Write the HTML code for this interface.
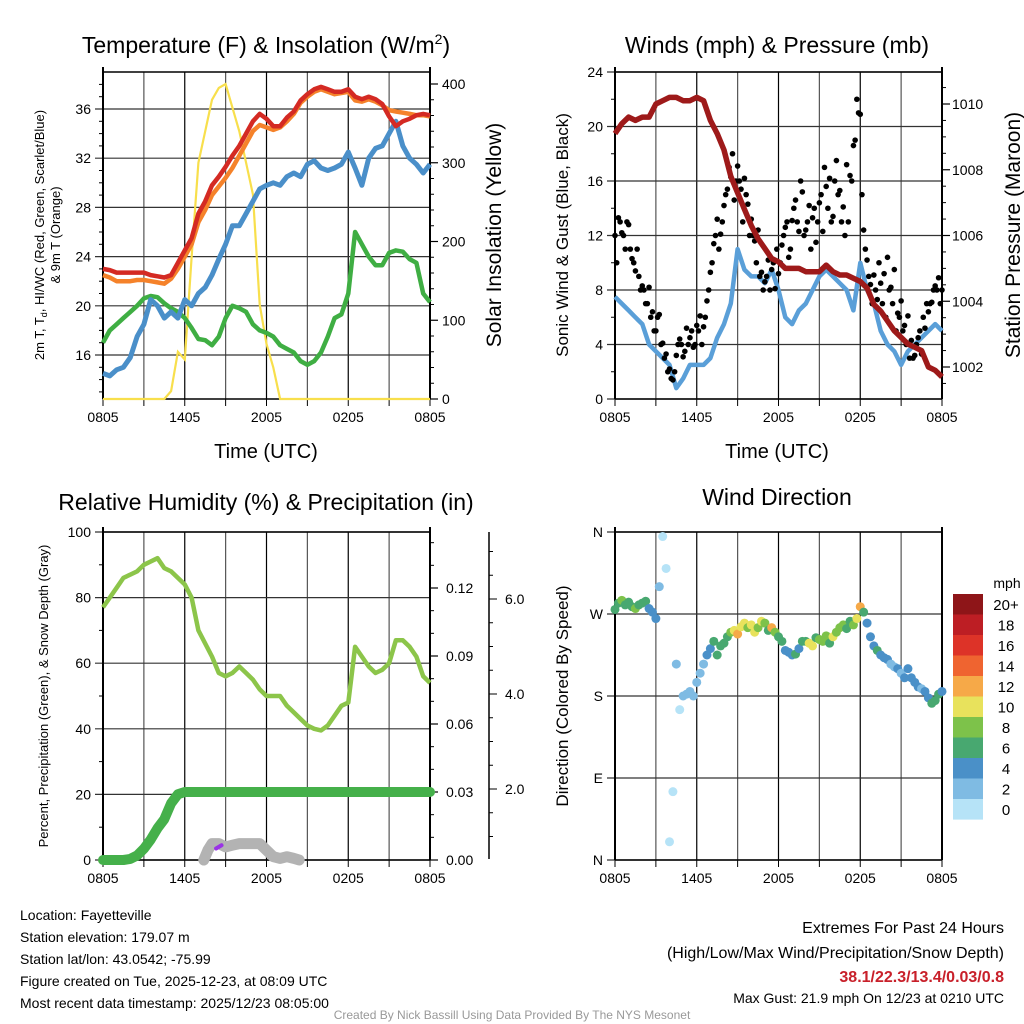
<!DOCTYPE html>
<html><head><meta charset="utf-8"><style>
html,body{margin:0;padding:0;background:#fff;}
svg{display:block;font-family:"Liberation Sans",Arial,sans-serif;}
</style></head><body>
<svg id="root" width="1024" height="1024" viewBox="0 0 1024 1024" xmlns="http://www.w3.org/2000/svg">
<rect width="1024" height="1024" fill="#fff"/>
<g id="p1"></g>
<g id="p2"></g>
<g id="p3"></g>
<g id="p4"></g>
<g font-size="14" fill="#000">
<text x="20" y="920">Location: Fayetteville</text>
<text x="20" y="942">Station elevation: 179.07 m</text>
<text x="20" y="964">Station lat/lon: 43.0542; -75.99</text>
<text x="20" y="986">Figure created on Tue, 2025-12-23, at 08:09 UTC</text>
<text x="20" y="1008">Most recent data timestamp: 2025/12/23 08:05:00</text>
</g>
<g text-anchor="end">
<text x="1004" y="933" font-size="16">Extremes For Past 24 Hours</text>
<text x="1004" y="958" font-size="16">(High/Low/Max Wind/Precipitation/Snow Depth)</text>
<text x="1004" y="982" font-size="16" font-weight="bold" fill="#c8202a">38.1/22.3/13.4/0.03/0.8</text>
<text x="1004" y="1003" font-size="14">Max Gust: 21.9 mph On 12/23 at 0210 UTC</text>
</g>
<text x="512" y="1019" font-size="12" fill="#999" text-anchor="middle">Created By Nick Bassill Using Data Provided By The NYS Mesonet</text>
</svg>
<script>
const NS='http://www.w3.org/2000/svg';
const xLabels=['0805','1405','2005','0205','0805'];
// 0.5 hour series (hours 0..24)
const tempRed=[23.0,22.9,22.7,22.7,22.7,22.7,22.7,22.5,22.4,22.3,22.5,23.5,24.5,25.5,27.5,28.5,29.8,30.5,31.3,32.2,33.0,34.0,35.0,35.6,35.2,34.6,34.6,35.3,35.8,36.7,37.2,37.6,37.8,37.6,37.4,37.4,37.6,37.0,36.8,37.0,36.8,36.4,35.4,34.6,35.0,35.2,35.5,35.6,35.5];
const tempOrange=[22.5,22.3,22.0,22.0,22.0,22.1,22.1,22.0,21.9,21.8,22.2,23.0,24.0,25.0,26.8,27.8,29.0,29.7,30.4,31.2,32.2,33.2,34.2,34.7,34.5,34.3,34.5,35.0,35.6,36.5,37.0,37.4,37.6,37.4,37.2,37.3,37.4,36.7,36.6,36.8,36.6,36.3,35.9,35.8,35.7,35.6,35.5,35.5,35.4];
const tempBlue=[14.5,14.3,14.8,15.0,15.8,17.5,18.5,20.5,20.0,19.0,19.5,19.0,20.5,20.0,21.0,21.5,22.5,23.8,25.0,26.5,26.5,27.5,28.5,29.5,29.8,30.0,29.8,30.5,30.8,30.5,31.5,31.8,31.2,31.0,31.2,31.5,32.5,31.2,29.8,32.0,32.8,33.0,34.0,35.0,33.0,32.0,31.5,30.8,31.5];
const tempGreen=[17.0,18.0,18.5,19.0,19.5,20.0,20.6,20.8,20.7,20.2,19.8,19.5,19.0,18.2,17.3,17.2,16.8,17.5,19.0,20.0,19.8,19.5,18.5,18.0,17.8,17.5,16.8,16.5,16.2,15.5,15.2,15.5,16.2,17.5,19.0,19.3,21.0,26.0,25.0,24.0,23.3,23.3,24.3,24.5,24.4,23.8,23.5,21.0,20.3];
const solar=[0,0,0,0,0,0,0,0,0,0,10,60,50,180,300,340,380,395,400,370,340,300,260,120,70,40,0,0,0,0,0,0,0,0,0,0,0,0,0,0,0,0,0,0,0,0,0,0,0];
const windSpeed=[7.5,7,6.5,6,5.5,4,3.5,3,2.5,0.8,1.5,2.5,2.5,2.5,3,4.5,5.5,7,11,9.5,9,9,8.5,9.5,8,6,5.5,6.5,7,8,9,9.5,9,8.5,8,6.5,10,8,7,5,4,3.5,2.5,3.5,4,4.5,5,5.5,5];
const pressure=[1009.1,1009.4,1009.6,1009.5,1009.6,1009.6,1010.0,1010.1,1010.2,1010.2,1010.1,1010.1,1010.2,1010.1,1009.5,1009.1,1008.6,1007.8,1007.3,1006.8,1006.3,1005.9,1005.6,1005.3,1005.2,1005.0,1005.0,1005.0,1004.9,1004.9,1004.9,1005.1,1004.9,1004.8,1004.8,1004.7,1004.6,1004.4,1003.9,1003.7,1003.4,1003.1,1002.9,1002.7,1002.6,1002.5,1002.0,1001.9,1001.7];
const rh=[77,80,83,86,87,88,90,91,92,89,88,86,84,80,70,66,62,57,56,57,59,57,55,52,50,50,50,47,45,43,41,40,39.5,41,44,47,48,65,62,59,57,58,60,67,67,65,62,56,54];
const precip=[0,0,0,0,0.0005,0.002,0.005,0.009,0.014,0.018,0.025,0.029,0.03,0.03,0.03,0.03,0.03,0.03,0.03,0.03,0.03,0.03,0.03,0.03,0.03,0.03,0.03,0.03,0.03,0.03,0.03,0.03,0.03,0.03,0.03,0.03,0.03,0.03,0.03,0.03,0.03,0.03,0.03,0.03,0.03,0.03,0.03,0.03,0.03];
const snowHours=[7.4,7.7,8,8.5,9,9.5,10,10.5,11,11.5,12,12.5,13,13.5,14,14.4];
const snowVals=[0,3,5,5,4,4.5,5,5,5,5,3,1,0.5,1,0.5,0];
// quarter-hour series (hours 0..24)
const gust=[12,13.3,12.2,11, 12.8,10.3,9.4,9, 8.3,7,8.2,6.4, 5,6.2,4.1,3.3, 2.2,1.4,3.2,4.4, 3.1,5.2,4.5,3.8, 5.4,6.1,5.3,7.2, 9.3,11.4,13.2,12.1, 14.2,15.4,16.3,14.6, 17.1,15.4,16.2,14.3, 13.2,11.6,12.4,9.3, 8.6,10.2,9.5,8.1, 9.2,11.3,12.6,10.4, 13.1,14.6,12.3,15.2, 12.4,14.2,13.3,11.5, 14.4,12.3,15.6,16.2, 13.4,17.5,15.3,14.1, 17.2,16.4,18.6,22, 20.9,12.4,10.2,8.4, 9.1,7.3,8.5,9.2, 10.4,8.2,9.5,6.3, 7.2,5.4,6.1,4.3, 3.2,4.5,3.3,5.2, 6.4,7.1,8.3,8.9, 8];
// gusts at quarter-hour + 0.125 h
const gust2=[10,13,12,13, 11,10,11,8, 8,7,6,5, 6,4,3,2, 1.5,2,4,4, 3.5,4,5,4, 5,4,6,8, 10,12,11,13, 15,17,18,16, 16,13,15,12, 12,10,9,8, 9,8,10,11, 10,12,13,11, 14,13,16,12, 13,11,14,13, 15,17,14,13, 16,15,13,12, 13,16,19,21, 15,11,9,7, 8,10,7,6, 8,7,5,6, 5,4,3,3, 4,5,6,7, 7,8,8,7];
const windDir=[275,282,285,280, 283,278,276,280, 282,284,276,272, 265,300,355,320, 20,75,215,165, 180,182,185,180, 195,205,215,225, 232,240,225,235, 238,245,250,252, 248,256,260,255, 258,250,255,262, 260,252,255,250, 245,240,230,228, 225,226,232,240, 240,238,235,244, 242,240,246,238, 245,250,255,258, 254,262,258,265, 278,272,260,245, 235,230,225,222, 220,215,212,210, 205,200,210,200, 195,190,188,185, 178,172,175,182, 185];
const dirSpeed=[6,7,8,7, 6,7,8,6, 7,6,4,4, 4,2,0,1, 0,0,2,0, 2,2,2,2, 2,2,3,4, 4,6,6,6, 6,7,9,10, 12,10,10,8, 10,10,8,10, 8,7,12,8, 6,6,4,4, 4,6,5,6, 6,10,10,6, 8,8,8,7, 10,8,8,9, 7,6,8,10, 13,6,4,4, 4,6,4,4, 4,2,2,4, 2,4,4,4, 4,4,2,4, 4,6,6,6, 4];
const cbLabels=['20+','18','16','14','12','10','8','6','4','2','0'];
const cbColors=['#8e1518','#bd1e24','#dd3328','#ef6430','#f6a948','#e8e25c','#7dc24a','#48a870','#4a90c8','#7fbbe3','#b6e3f7'];

function el(parent,tag,attrs,name,inter){const e=document.createElementNS(NS,tag);for(const k in attrs)e.setAttribute(k,attrs[k]);


parent.appendChild(e);return e;}
function txt(parent,x,y,s,size,anchor,name,extra){const t=el(parent,'text',Object.assign({x:x,y:y,'font-size':size,'text-anchor':anchor||'start'},extra||{}),name,false);t.textContent=s;return t;}
function lin(d0,d1,r0,r1){return v=>r0+(v-d0)*(r1-r0)/(d1-d0);}
function pathFrom(hs,vals,xf,yf){let d='';vals.forEach((v,i)=>{if(v==null)return;d+=(d?'L':'M')+xf(hs[i]).toFixed(1)+','+yf(v).toFixed(1);});return d;}
const half=Array.from({length:49},(_,i)=>i*0.5);
const qtr=Array.from({length:97},(_,i)=>i*0.25);

function frame(g,x0,x1,y0,y1,xf,yTicks,yf,labelFmt){
  for(let h=0;h<=24;h+=3){const x=xf(h);
    el(g,'line',{x1:x,x2:x,y1:y0,y2:y1,stroke:(h%6===0?'#000':'#555'),'stroke-width':1.2},'x-gridline',false);
    el(g,'line',{x1:x,x2:x,y1:y1,y2:y1+7,stroke:'#000','stroke-width':1},'x-tick',false);}
  yTicks.forEach(v=>{const y=yf(v);
    el(g,'line',{x1:x0-8,x2:x1,y1:y,y2:y,stroke:'#333','stroke-width':1.2},'y-gridline',false);
    txt(g,x0-12,y+5,labelFmt(v),14,'end','y-tick-label');});
  el(g,'line',{x1:x0,x2:x1,y1:y0,y2:y0,stroke:'#000','stroke-width':1.5},'top-border',false);
  el(g,'line',{x1:x0,x2:x1,y1:y1,y2:y1,stroke:'#000','stroke-width':1.5},'x-axis-line',false);
  el(g,'line',{x1:x0,x2:x0,y1:y0-5,y2:y1,stroke:'#000','stroke-width':2},'y-axis-line',false);
  el(g,'line',{x1:x1,x2:x1,y1:y0-5,y2:y1,stroke:'#000','stroke-width':2},'y2-axis-line',false);
  xLabels.forEach((s,i)=>txt(g,xf(i*6),y1+23,s,14,'middle','x-tick-label'));
}

// ---------- Panel 1: Temperature ----------
(function(){
  const g=document.getElementById('p1');
  const X0=103,X1=430,Y0=72,Y1=399;
  const x=lin(0,24,X0,X1), y=lin(16,36,355,109), ys=lin(0,400,399,84);
  frame(g,X0,X1,Y0,Y1,x,[16,20,24,28,32,36],y,v=>String(v));
  for(let v=13;v<=38;v++){if(v%4===0)continue;el(g,'line',{x1:X0-4,x2:X0,y1:y(v),y2:y(v),stroke:'#000'},'y-minor-tick',false);}
  [0,100,200,300,400].forEach(v=>{el(g,'line',{x1:X1,x2:X1+8,y1:ys(v),y2:ys(v),stroke:'#000','stroke-width':1.2},'y2-tick',false);txt(g,X1+12,ys(v)+5,String(v),14,'start','y2-tick-label');});
  for(let v=20;v<=400;v+=20){if(v%100===0)continue;el(g,'line',{x1:X1,x2:X1+4,y1:ys(v),y2:ys(v),stroke:'#000'},'y2-minor-tick',false);}
  el(g,'path',{d:pathFrom(half,solar,x,ys),fill:'none',stroke:'#f8df4c','stroke-width':2.2},'solar-insolation-line',false);
  el(g,'path',{d:pathFrom(half,tempGreen,x,y),fill:'none',stroke:'#3fae43','stroke-width':4.5,'stroke-linejoin':'round'},'dewpoint-line',false);
  el(g,'path',{d:pathFrom(half,tempBlue,x,y),fill:'none',stroke:'#4a8fc9','stroke-width':5,'stroke-linejoin':'round'},'windchill-line',false);
  el(g,'path',{d:pathFrom(half,tempOrange,x,y),fill:'none',stroke:'#f5822a','stroke-width':4.5,'stroke-linejoin':'round'},'temp-9m-line',false);
  el(g,'path',{d:pathFrom(half,tempRed,x,y),fill:'none',stroke:'#d42a23','stroke-width':4.5,'stroke-linejoin':'round'},'temp-2m-line',false);
  const t=txt(g,266,53,'Temperature (F) & Insolation (W/m',23,'middle','chart-title');
  const sp=document.createElementNS(NS,'tspan');sp.setAttribute('dy','-9');sp.setAttribute('font-size','14');sp.textContent='2';t.appendChild(sp);
  const sp2=document.createElementNS(NS,'tspan');sp2.setAttribute('dy','9');sp2.textContent=')';t.appendChild(sp2);
  txt(g,44,235,'2m T, T',13,'middle','y-axis-title',{transform:'rotate(-90 44 235)'}).innerHTML='2m T, T<tspan font-size="9" dy="3">d</tspan><tspan dy="-3">, HI/WC (Red, Green, Scarlet/Blue)</tspan>';
  txt(g,60,235,'& 9m T (Orange)',13,'middle','y-axis-title-line2',{transform:'rotate(-90 60 235)'});
  txt(g,501,235,'Solar Insolation (Yellow)',21,'middle','y2-axis-title',{transform:'rotate(-90 501 235)'});
  txt(g,266,458,'Time (UTC)',20,'middle','x-axis-title');
})();

// ---------- Panel 2: Winds ----------
(function(){
  const g=document.getElementById('p2');
  const X0=615,X1=942,Y0=72,Y1=399;
  const x=lin(0,24,X0,X1), y=lin(0,24,399,72), yp=lin(1002,1010,367,104);
  frame(g,X0,X1,Y0,Y1,x,[0,4,8,12,16,20,24],y,v=>String(v));
  for(let v=2;v<24;v+=4)el(g,'line',{x1:X0-4,x2:X0,y1:y(v),y2:y(v),stroke:'#000'},'y-minor-tick',false);
  [1002,1004,1006,1008,1010].forEach(v=>{el(g,'line',{x1:X1,x2:X1+8,y1:yp(v),y2:yp(v),stroke:'#000','stroke-width':1.2},'y2-tick',false);txt(g,X1+10,yp(v)+5,String(v),14,'start','y2-tick-label');});
  for(let v=1001.5;v<=1011;v+=0.5){if(v%2===0)continue;if(yp(v)<Y0||yp(v)>Y1)continue;el(g,'line',{x1:X1,x2:X1+4,y1:yp(v),y2:yp(v),stroke:'#000'},'y2-minor-tick',false);}
  el(g,'path',{d:pathFrom(half,windSpeed,x,y),fill:'none',stroke:'#5a9fd8','stroke-width':4.5,'stroke-linejoin':'round'},'sonic-wind-line',false);
  gust.forEach((v,i)=>{el(g,'circle',{cx:x(qtr[i]),cy:y(v),r:2.8,fill:'#000'},'gust-point',false);});
  gust2.forEach((v,i)=>{el(g,'circle',{cx:x(qtr[i]+0.125),cy:y(v),r:2.8,fill:'#000'},'gust-point',false);});
  el(g,'path',{d:pathFrom(half,pressure,x,yp),fill:'none',stroke:'#9e1a1a','stroke-width':5.5,'stroke-linejoin':'round'},'pressure-line',false);
  txt(g,777,53,'Winds (mph) & Pressure (mb)',23,'middle','chart-title');
  txt(g,568,235,'Sonic Wind & Gust (Blue, Black)',17,'middle','y-axis-title',{transform:'rotate(-90 568 235)'});
  txt(g,1020,235,'Station Pressure (Maroon)',21,'middle','y2-axis-title',{transform:'rotate(-90 1020 235)'});
  txt(g,777,458,'Time (UTC)',20,'middle','x-axis-title');
})();

// ---------- Panel 3: RH & precip ----------
(function(){
  const g=document.getElementById('p3');
  const X0=103,X1=430,Y0=532,Y1=860;
  const x=lin(0,24,X0,X1), y=lin(0,100,860,532), yp=lin(0,0.03,860,792), ysn=lin(2,6,789,599);
  frame(g,X0,X1,Y0,Y1,x,[0,20,40,60,80,100],y,v=>String(v));
  for(let v=10;v<100;v+=20)el(g,'line',{x1:X0-4,x2:X0,y1:y(v),y2:y(v),stroke:'#000'},'y-minor-tick',false);
  [0,0.03,0.06,0.09,0.12].forEach(v=>{el(g,'line',{x1:X1,x2:X1+8,y1:yp(v),y2:yp(v),stroke:'#000','stroke-width':1.2},'y2-tick',false);txt(g,X1+16,yp(v)+5,v.toFixed(2),14,'start','y2-tick-label');});
  for(let k=1;k<=14;k++){if(k%3===0)continue;const v=k*0.01;el(g,'line',{x1:X1,x2:X1+4,y1:yp(v),y2:yp(v),stroke:'#000'},'y2-minor-tick',false);}
  el(g,'line',{x1:489,x2:489,y1:532,y2:859,stroke:'#000','stroke-width':1.5},'snow-axis-line',false);
  [2,4,6].forEach(v=>{el(g,'line',{x1:489,x2:497,y1:ysn(v),y2:ysn(v),stroke:'#000'},'snow-tick',false);txt(g,505,ysn(v)+5,v.toFixed(1),14,'start','snow-tick-label');});
  for(let v=1;v<=7;v+=0.5){if(v%2===0)continue;if(ysn(v)<532||ysn(v)>860)continue;el(g,'line',{x1:489,x2:493,y1:ysn(v),y2:ysn(v),stroke:'#000'},'snow-minor-tick',false);}
  el(g,'path',{d:pathFrom(snowHours,snowVals,x,y),fill:'none',stroke:'#b3b3b3','stroke-width':11,'stroke-linecap':'round','stroke-linejoin':'round'},'snow-depth-line',false);
  el(g,'path',{d:'M'+x(8.3)+','+y(3.5)+'L'+x(8.7)+','+y(4.5),fill:'none',stroke:'#9a33e6','stroke-width':4,'stroke-linecap':'round'},'snowfall-marker',false);
  el(g,'path',{d:pathFrom(half,precip,x,yp),fill:'none',stroke:'#45b04a','stroke-width':10,'stroke-linecap':'round','stroke-linejoin':'round'},'precipitation-line',false);
  el(g,'path',{d:pathFrom(half,rh,x,y),fill:'none',stroke:'#8cc54a','stroke-width':4.5,'stroke-linejoin':'round'},'relative-humidity-line',false);
  txt(g,266,510,'Relative Humidity (%) & Precipitation (in)',23,'middle','chart-title');
  txt(g,48,696,'Percent, Precipitation (Green), & Snow Depth (Gray)',13,'middle','y-axis-title',{transform:'rotate(-90 48 696)'});
})();

// ---------- Panel 4: Direction ----------
(function(){
  const g=document.getElementById('p4');
  const X0=615,X1=942,Y0=532,Y1=860;
  const x=lin(0,24,X0,X1), y=lin(0,360,860,532);
  const dl=['N','E','S','W','N'];
  frame(g,X0,X1,Y0,Y1,x,[0,90,180,270,360],y,v=>dl[v/90]);
  windDir.forEach((d,i)=>{const b=Math.min(10,Math.floor(dirSpeed[i]/2));
    el(g,'circle',{cx:x(qtr[i]),cy:y(d),r:4.5,fill:cbColors[10-b]},'direction-point',false);});
  cbColors.forEach((c,i)=>{el(g,'rect',{x:953,y:594+i*20.5,width:30,height:20.6,fill:c},'colorbar-swatch',false);
    txt(g,1006,594+i*20.5+16,cbLabels[i],15,'middle','colorbar-label');});
  txt(g,1007,588,'mph',14,'middle','colorbar-title');
  txt(g,777,505,'Wind Direction',23,'middle','chart-title');
  txt(g,568,696,'Direction (Colored By Speed)',17,'middle','y-axis-title',{transform:'rotate(-90 568 696)'});
})();
</script>
</body></html>
